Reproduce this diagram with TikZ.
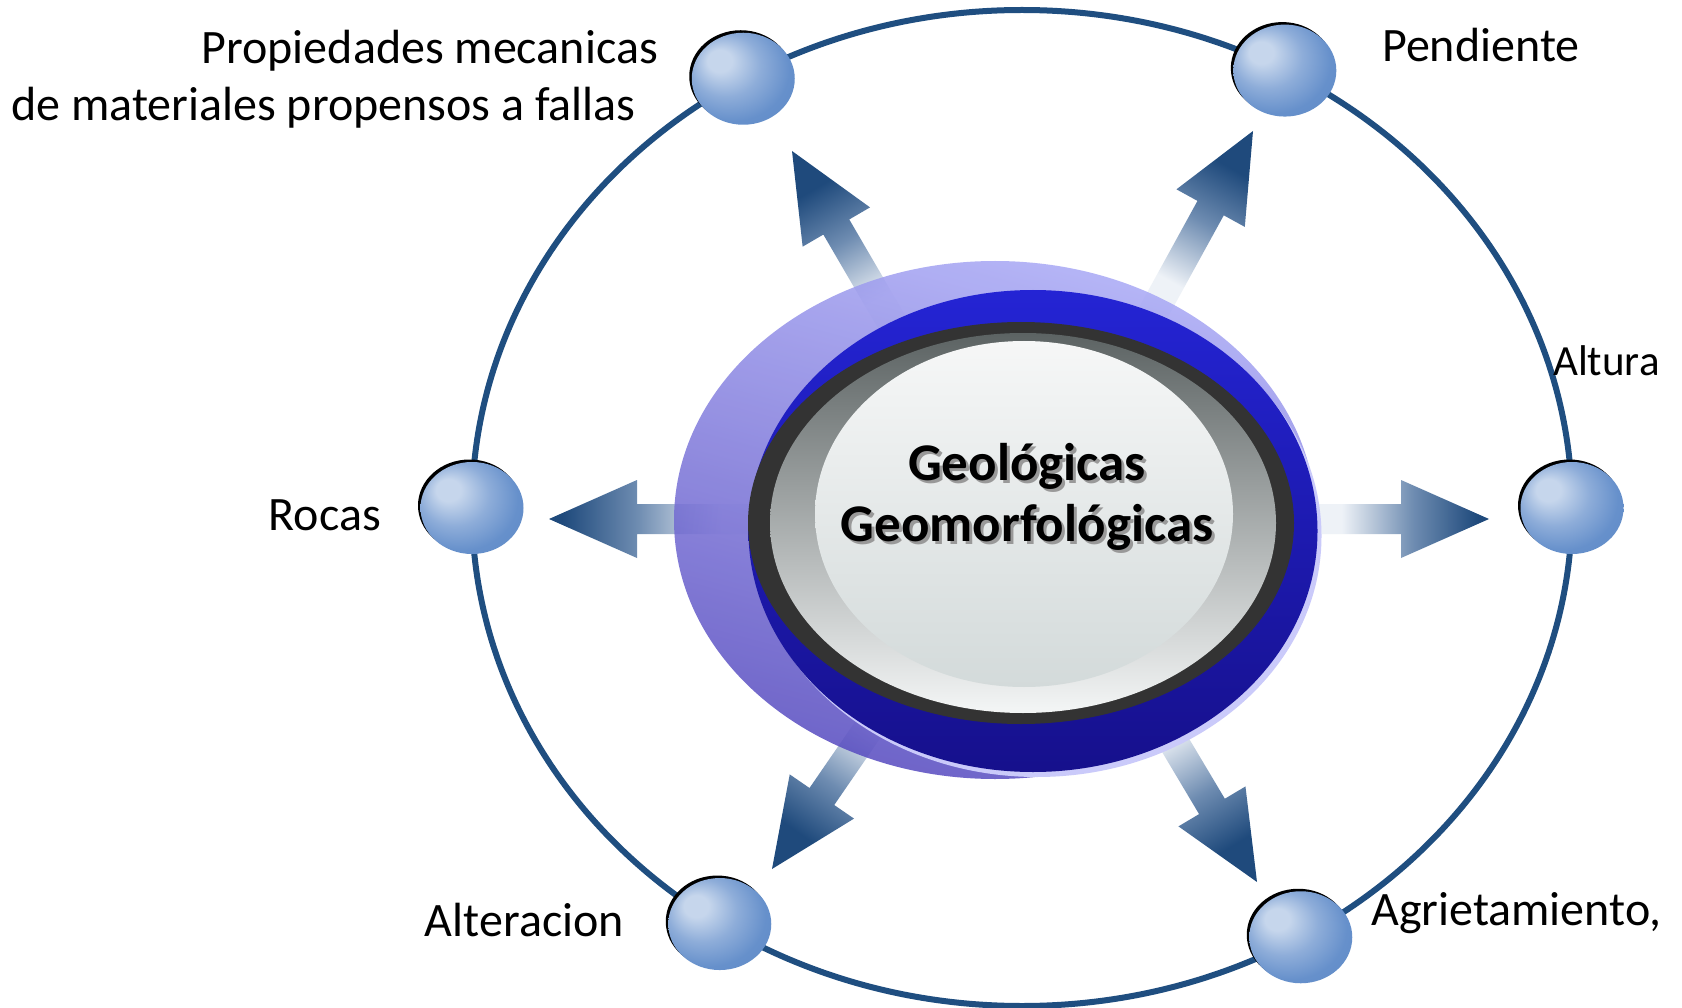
\documentclass[tikz,border=0pt]{standalone}
\usepackage{fontspec}
\setmainfont{Carlito}
\usetikzlibrary{shapes.geometric,shadows,calc}

\definecolor{ringblue}{HTML}{1F4E80}
\definecolor{bubhi}{HTML}{C6D6EC}
\definecolor{bubmid}{HTML}{8EADD9}
\definecolor{bubbase}{HTML}{6690CB}
\definecolor{bubedge}{HTML}{4B7BBC}
\definecolor{arrlight}{HTML}{EEF2F7}
\definecolor{arrmid}{HTML}{6E8CB1}
\definecolor{arrdark}{HTML}{1F4A7C}

\pgfdeclareradialshading{bubbleshade}{\pgfpoint{-13bp}{11bp}}{color(0bp)=(bubhi); color(6bp)=(bubhi); color(17bp)=(bubmid); color(28bp)=(bubbase); color(42bp)=(bubbase!70!bubedge); color(50bp)=(bubedge)}
\pgfdeclareverticalshading{arrowshade}{100bp}{color(0bp)=(arrlight); color(36bp)=(arrlight); color(55bp)=(arrmid); color(72bp)=(arrdark); color(100bp)=(arrdark)}

% block arrow: tail, tip, shading angle
\newcommand{\blockarrow}[3]{%
  \coordinate (hb) at ($(#2)!88pt!(#1)$);
  \shade[shading=arrowshade, shading angle=#3]
    ($(#1)!15pt!90:(#2)$) -- ($(hb)!15pt!-90:(#1)$) -- ($(hb)!39pt!-90:(#1)$) -- (#2)
    -- ($(hb)!39pt!90:(#1)$) -- ($(hb)!15pt!90:(#1)$) -- ($(#1)!15pt!-90:(#2)$) -- cycle;}

\begin{document}
\begin{tikzpicture}[x=1pt, y=-1pt,
  orb/.style={draw=ringblue, line width=6pt, ellipse, inner sep=0pt, outer sep=0pt, minimum width=1100pt, minimum height=996pt},
  bub/.style={ellipse, shade, shading=bubbleshade, minimum width=103pt, minimum height=92pt, inner sep=0pt,
    drop shadow={shadow xshift=-2.5pt, shadow yshift=2.5pt, opacity=1, fill=black}},
  lbl/.style={font=\fontsize{48}{57}\selectfont, inner sep=0pt},
  halo/.style={ellipse, inner sep=0pt, opacity=0.85, top color=HaloTop, bottom color=HaloBot, shading angle=-15},
  band/.style={ellipse, inner sep=0pt, top color=BandTop, middle color=BandMid, bottom color=BandBot,
    drop shadow={shadow xshift=4pt, shadow yshift=-5pt, opacity=1, fill=Lav}},
  rim/.style={ellipse, inner sep=0pt, fill=RimGray},
  dial/.style={ellipse, inner sep=0pt, top color=DialTop, middle color=DialMid, bottom color=DialBot},
  core/.style={ellipse, inner sep=0pt, top color=CoreTop, bottom color=CoreBot},
  ctr/.style={font=\fontsize{53}{61}\selectfont\bfseries, align=center, inner sep=0pt}]
\definecolor{HaloTop}{HTML}{A9A9F6}
\definecolor{HaloBot}{HTML}{5549BF}
\definecolor{BandTop}{HTML}{2424D4}
\definecolor{BandMid}{HTML}{0606C4}
\definecolor{BandBot}{HTML}{16108C}
\definecolor{Lav}{HTML}{CACAFA}
\definecolor{RimGray}{HTML}{333333}
\definecolor{DialTop}{HTML}{5C6363}
\definecolor{DialMid}{HTML}{B6BCBC}
\definecolor{DialBot}{HTML}{F4F6F6}
\definecolor{CoreTop}{HTML}{F6F7F7}
\definecolor{CoreBot}{HTML}{D3DADA}

\path[fill=white, use as bounding box] (0,0) rectangle (1682,1008);

\node[orb] (orbit) at (1022,508) {};

% arrows
\coordinate (lS) at (770,519);  \coordinate (lE) at (549,519);
\coordinate (rS) at (1300,519); \coordinate (rE) at (1489,519);
\coordinate (tlS) at (908,350); \coordinate (tlE) at (792,151);
\coordinate (trS) at (1142,333); \coordinate (trE) at (1253,131);
\coordinate (blS) at (902,680); \coordinate (blE) at (772,869);
\coordinate (brS) at (1139,684); \coordinate (brE) at (1257,882);
\blockarrow{lS}{lE}{90}
\blockarrow{rS}{rE}{-90}
\blockarrow{tlS}{tlE}{30}
\blockarrow{trS}{trE}{-29}
\blockarrow{blS}{blE}{145}
\blockarrow{brS}{brE}{-149}

% centre
\node[halo, minimum width=642pt, minimum height=518pt] (halo) at (995,520) {};
\node[band, minimum width=569pt, minimum height=482pt] (band) at (1033,531) {};
\node[rim, minimum width=546pt, minimum height=402pt] (rim) at (1021,523) {};
\node[dial, minimum width=506pt, minimum height=380pt] (dial) at (1023,523) {};
\node[core, minimum width=418pt, minimum height=346pt] (core) at (1024,514) {};
\node[ctr, text=black!40] (ctrshadow) at (1030,500) {Geológicas\\Geomorfológicas};
\node[ctr] (ctr) at (1027,497) {Geológicas\\Geomorfológicas};

% bubbles on the orbit
\node[bub] (bTL) at (orbit.123.5) {};
\node[bub] (bTR) at (orbit.59.5) {};
\node[bub] (bL) at (orbit.180.7) {};
\node[bub] (bR) at (orbit.-0.7) {};
\node[bub] (bBL) at (orbit.234) {};
\node[bub] (bBR) at (orbit.303.1) {};

% labels
\node[lbl, anchor=east, align=right] (prop) at (658,79) {Propiedades mecanicas\\de materiales propensos a fallas\hspace*{22pt}};
\node[lbl, anchor=base west] (pend) at (1382,62) {Pendiente};
\node[lbl, anchor=base west, font=\fontsize{43}{52}\selectfont] (alt) at (1553,375) {Altura};
\node[lbl, anchor=base east] (roc) at (381,530) {Rocas};
\node[lbl, anchor=base east] (alte) at (624,936) {Alteracion};
\node[lbl, anchor=base west] (agr) at (1371,925) {Agrietamiento,};
\end{tikzpicture}
\end{document}
